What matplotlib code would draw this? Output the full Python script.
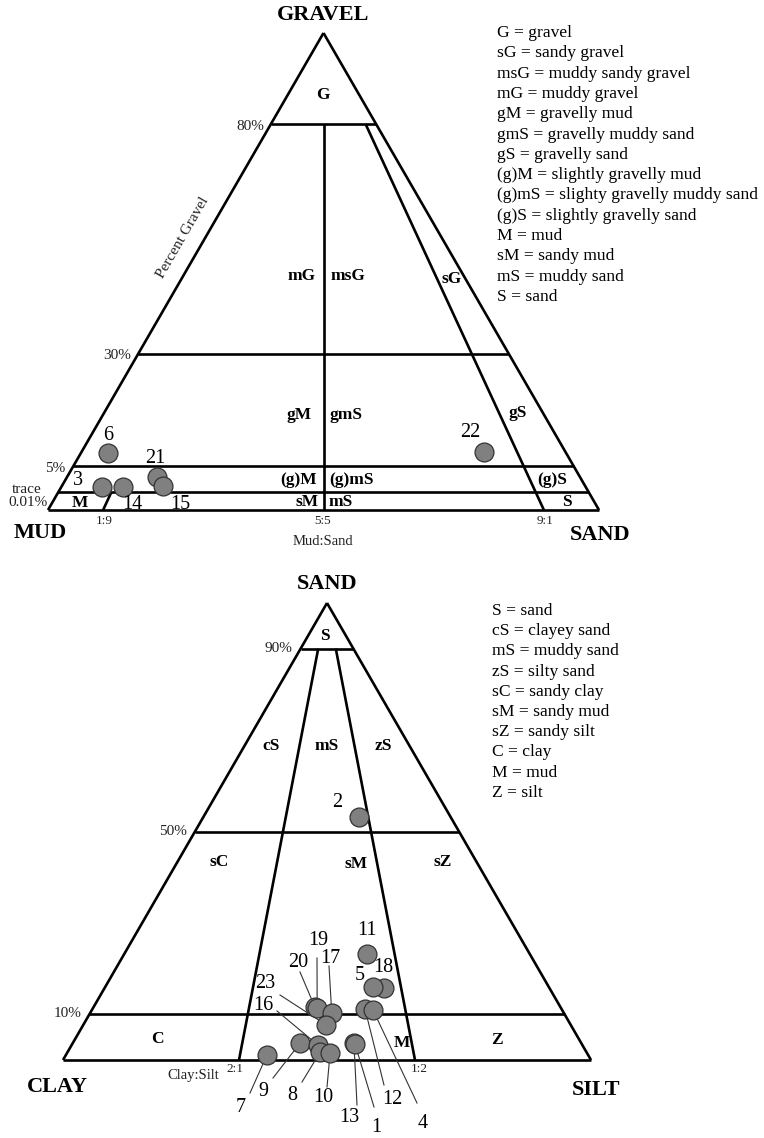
import matplotlib.pyplot as plt
import numpy as np

plt.rcParams["font.family"] = ["Liberation Serif", "DejaVu Serif"]

# gravel - mud - sand samples (Folk); gravel in %, sand as fraction of sand+mud
gravel_ids = ["6", "3", "14", "21", "15", "22"]
gravel_pct = [7.9, 1.0, 1.0, 2.9, 1.2, 8.1]
gravel_sand_frac = [0.056, 0.078, 0.118, 0.175, 0.193, 0.832]

# sand - silt - clay samples; sand in %, silt as fraction of silt+clay
sand_ids = ["2", "11", "18", "5", "12", "4", "20", "19", "17", "23",
            "7", "9", "16", "8", "10", "13", "1"]
sand_pct = [53.2, 23.2, 15.8, 16.0, 11.2, 10.9, 11.6, 11.4, 10.3, 7.7,
            1.1, 3.7, 3.3, 1.75, 1.5, 3.7, 3.5]
silt_frac = [0.630, 0.599, 0.628, 0.604, 0.581, 0.598, 0.474, 0.479, 0.510, 0.498,
             0.385, 0.447, 0.482, 0.487, 0.506, 0.553, 0.555]

gravel_legend = [
    "G = gravel", "sG = sandy gravel", "msG = muddy sandy gravel",
    "mG = muddy gravel", "gM = gravelly mud", "gmS = gravelly muddy sand",
    "gS = gravelly sand", "(g)M = slightly gravelly mud",
    "(g)mS = slighty gravelly muddy sand", "(g)S = slightly gravelly sand",
    "M = mud", "sM = sandy mud", "mS = muddy sand", "S = sand",
]
sand_legend = [
    "S = sand", "cS = clayey sand", "mS = muddy sand", "zS = silty sand",
    "sC = sandy clay", "sM = sandy mud", "sZ = sandy silt", "C = clay",
    "M = mud", "Z = silt",
]

# the gravel axis of the Folk triangle is stretched near the base
gravel_levels = [0, 0.01, 5, 30, 80, 100]
gravel_level_y = [510, 492, 466, 354, 124, 33]


def top_xy(g, r):
    g = np.asarray(g, dtype=float)
    r = np.asarray(r, dtype=float)
    y = np.interp(g, gravel_levels, gravel_level_y)
    h = (510 - y) / (510 - 33)
    left = 48 + h * 551 / 2
    return left + r * 551 * (1 - h), y


def bot_xy(s, r):
    h = np.asarray(s, dtype=float) / 100
    r = np.asarray(r, dtype=float)
    y = 1060 - h * 457
    left = 63 + h * 264
    return left + r * 528 * (1 - h), y


fig = plt.figure(figsize=(7.64, 11.38), dpi=100)
ax = fig.add_axes([0, 0, 1, 1])
ax.set_xlim(0, 764)
ax.set_ylim(1138, 0)
ax.axis("off")

LW = 1.9


def seg(proj, a, b):
    xa, ya = proj(*a)
    xb, yb = proj(*b)
    ax.plot([xa, xb], [ya, yb], color="black", lw=LW, solid_capstyle="butt", zorder=2)


# ---- top triangle: gravel / mud / sand
for a, b in [((0, 0), (0, 1)), ((0, 1), (100, 0)), ((100, 0), (0, 0))]:
    seg(top_xy, a, b)
for level in [80, 30, 5, 0.01]:
    seg(top_xy, (level, 0), (level, 1))
seg(top_xy, (80, 0.5), (0, 0.5))
seg(top_xy, (80, 0.9), (0, 0.9))
seg(top_xy, (0.01, 0.1), (0, 0.1))

bold = dict(fontweight="bold", ha="center", va="center", fontsize=12.5)
for text, x, y in [("G", 323, 95), ("mG", 302, 276), ("msG", 348, 276), ("sG", 452, 279),
                   ("gM", 299, 415), ("gmS", 346, 415), ("gS", 518, 413),
                   ("(g)M", 299, 480), ("(g)mS", 351, 480), ("(g)S", 552, 480),
                   ("M", 80, 503), ("sM", 307, 502), ("mS", 341, 502), ("S", 567, 502)]:
    ax.text(x, y, text, **bold)

corner = dict(fontweight="bold", ha="center", va="center", fontsize=16)
ax.text(323, 15, "GRAVEL", **corner)
ax.text(40, 533, "MUD", **corner)
ax.text(600, 535, "SAND", **corner)

tick = dict(ha="center", va="center", fontsize=11, color="#222222")
ax.text(250, 126, "80%", **tick)
ax.text(117, 355, "30%", **tick)
ax.text(55, 468, "5%", **tick)
ax.text(27, 489, "trace", **tick)
ax.text(28, 502, "0.01%", **tick)
ax.text(183, 238, "Percent Gravel", rotation=60, **tick)
small = dict(ha="center", va="center", fontsize=9.5, color="#222222")
ax.text(104, 521, "1:9", **small)
ax.text(323, 521, "5:5", **small)
ax.text(545, 521, "9:1", **small)
ax.text(323, 541, "Mud:Sand", ha="center", va="center", fontsize=10.5, color="#222222")

gx, gy = top_xy(gravel_pct, gravel_sand_frac)
ax.scatter(gx, gy, s=185, c="#808080", edgecolors="#333333", linewidths=0.9, zorder=3)
top_label_pos = {"6": (108, 435), "3": (78, 480), "14": (132, 504),
                 "21": (155, 458), "15": (180, 504), "22": (470, 432)}
for sid in gravel_ids:
    x, y = top_label_pos[sid]
    ax.text(x, y, sid, ha="center", va="center", fontsize=14.5, zorder=4)

for i, line in enumerate(gravel_legend):
    ax.text(497, 33 + i * 20.3, line, ha="left", va="center", fontsize=12.6)

# ---- bottom triangle: sand / silt / clay
for a, b in [((0, 0), (0, 1)), ((0, 1), (100, 0)), ((100, 0), (0, 0))]:
    seg(bot_xy, a, b)
for level in [90, 50, 10]:
    seg(bot_xy, (level, 0), (level, 1))
seg(bot_xy, (90, 1 / 3), (0, 1 / 3))
seg(bot_xy, (90, 2 / 3), (0, 2 / 3))

for text, x, y in [("S", 325, 636), ("cS", 271, 746), ("mS", 327, 746), ("zS", 383, 746),
                   ("sC", 219, 862), ("sM", 356, 864), ("sZ", 443, 862),
                   ("C", 157, 1039), ("M", 402, 1043), ("Z", 497, 1040)]:
    ax.text(x, y, text, **bold)

ax.text(327, 584, "SAND", **corner)
ax.text(57, 1087, "CLAY", **corner)
ax.text(596, 1090, "SILT", **corner)

ax.text(278, 648, "90%", **tick)
ax.text(173, 831, "50%", **tick)
ax.text(68, 1013, "10%", **tick)
ax.text(235, 1069, "2:1", **small)
ax.text(419, 1069, "1:2", **small)
ax.text(193, 1076, "Clay:Silt", ha="center", va="center", fontsize=10.5, color="#222222")

bx, by = bot_xy(sand_pct, silt_frac)
bot_label_pos = {
    "2": (337, 802, None), "11": (367, 930, None), "18": (383, 967, None),
    "5": (360, 975, None), "12": (392, 1100, (384, 1085)), "4": (423, 1123, (417, 1103)),
    "19": (318, 940, (317, 958)), "20": (298, 962, (300, 972)), "17": (330, 958, (329, 966)),
    "23": (265, 983, (280, 995)), "16": (263, 1005, (277, 1011)),
    "7": (241, 1107, (250, 1093)), "9": (263, 1092, (273, 1078)),
    "8": (292, 1095, (302, 1082)), "10": (323, 1098, (327, 1087)),
    "13": (349, 1118, (357, 1105)), "1": (376, 1128, (374, 1107)),
}
for sid, px, py in zip(sand_ids, bx, by):
    lx, ly, start = bot_label_pos[sid]
    if start is not None:
        ax.plot([start[0], px], [start[1], py], color="#333333", lw=0.8, zorder=2.5)
    ax.text(lx, ly, sid, ha="center", va="center", fontsize=14.5, zorder=4)
ax.scatter(bx, by, s=185, c="#808080", edgecolors="#333333", linewidths=0.9, zorder=3)

for i, line in enumerate(sand_legend):
    ax.text(492, 611 + i * 20.2, line, ha="left", va="center", fontsize=12.6)

fig.savefig("out.png", dpi=100)
